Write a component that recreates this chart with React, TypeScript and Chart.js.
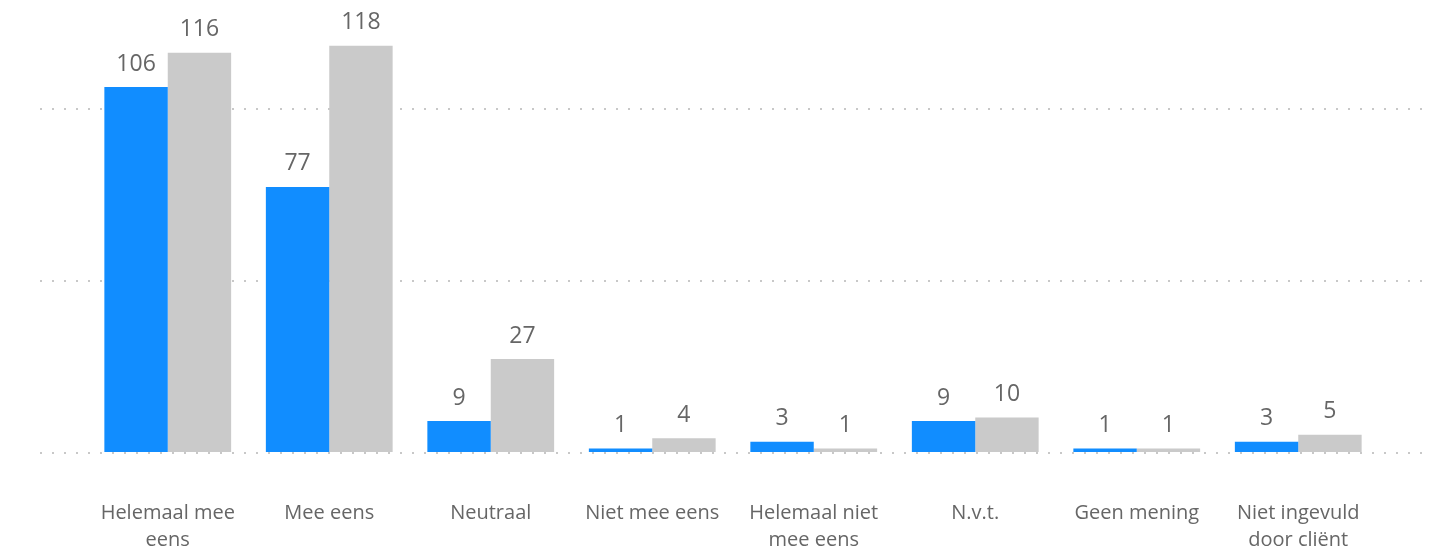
import React, { useEffect, useRef } from "react";
import { Chart, registerables } from "chart.js";

Chart.register(...registerables);

const categories: string[][] = [
  ["Helemaal mee", "eens"],
  ["Mee eens"],
  ["Neutraal"],
  ["Niet mee eens"],
  ["Helemaal niet", "mee eens"],
  ["N.v.t."],
  ["Geen mening"],
  ["Niet ingevuld", "door cliënt"],
];
const seriesBlue: number[] = [106, 77, 9, 1, 3, 9, 1, 3];
const seriesGrey: number[] = [116, 118, 27, 4, 1, 10, 1, 5];
const gridValues: number[] = [0, 50, 100];

const FONT = "'Open Sans', 'Noto Sans', sans-serif";

const gridPlugin = {
  id: "dottedGrid",
  beforeDatasetsDraw(chart: any) {
    const { ctx } = chart;
    const y = chart.scales.y;
    ctx.save();
    ctx.strokeStyle = "#c8c8c8";
    ctx.lineWidth = 2;
    ctx.setLineDash([2, 10]);
    for (const v of gridValues) {
      const py = Math.round(y.getPixelForValue(v)) + 1;
      ctx.beginPath();
      ctx.moveTo(40, py);
      ctx.lineTo(1424, py);
      ctx.stroke();
    }
    ctx.restore();
  },
};

const labelPlugin = {
  id: "valueLabels",
  afterDatasetsDraw(chart: any) {
    const { ctx } = chart;
    ctx.save();
    ctx.font = `23px ${FONT}`;
    ctx.fillStyle = "#666666";
    ctx.textAlign = "center";
    ctx.textBaseline = "middle";
    chart.data.datasets.forEach((ds: any, di: number) => {
      const meta = chart.getDatasetMeta(di);
      meta.data.forEach((bar: any, i: number) => {
        ctx.fillText(String(ds.data[i]), bar.x, bar.y - 23);
      });
    });
    ctx.restore();
  },
};

export default function App() {
  const ref = useRef<HTMLCanvasElement | null>(null);
  useEffect(() => {
    if (!ref.current) return;
    const chart = new Chart(ref.current, {
      type: "bar",
      data: {
        labels: categories,
        datasets: [
          {
            data: seriesBlue,
            backgroundColor: "#118DFF",
            barPercentage: 1,
            categoryPercentage: 0.785,
          },
          {
            data: seriesGrey,
            backgroundColor: "#CACACA",
            barPercentage: 1,
            categoryPercentage: 0.785,
          },
        ],
      },
      options: {
        animation: false,
        responsive: false,
        maintainAspectRatio: false,
        layout: { padding: { left: 87, right: 66, top: 0, bottom: 0 } },
        plugins: {
          legend: { display: false },
          tooltip: { enabled: false },
          title: { display: false },
        },
        scales: {
          x: {
            grid: { display: false, drawTicks: false },
            border: { display: false },
            ticks: {
              color: "#666666",
              font: { family: FONT, size: 20, lineHeight: 1.38 },
              padding: 47,
              maxRotation: 0,
              autoSkip: false,
            },
            afterFit(scale: any) {
              scale.height = 100;
            },
          },
          y: {
            display: false,
            min: 0,
            max: 131.3,
          },
        },
      },
      plugins: [gridPlugin, labelPlugin],
    });
    return () => chart.destroy();
  }, []);
  return (
    <div style={{ position: "fixed", left: 0, top: 0, width: 1445, height: 552, background: "#fff" }}>
      <canvas ref={ref} width={1445} height={552} style={{ width: 1445, height: 552 }} />
    </div>
  );
}
